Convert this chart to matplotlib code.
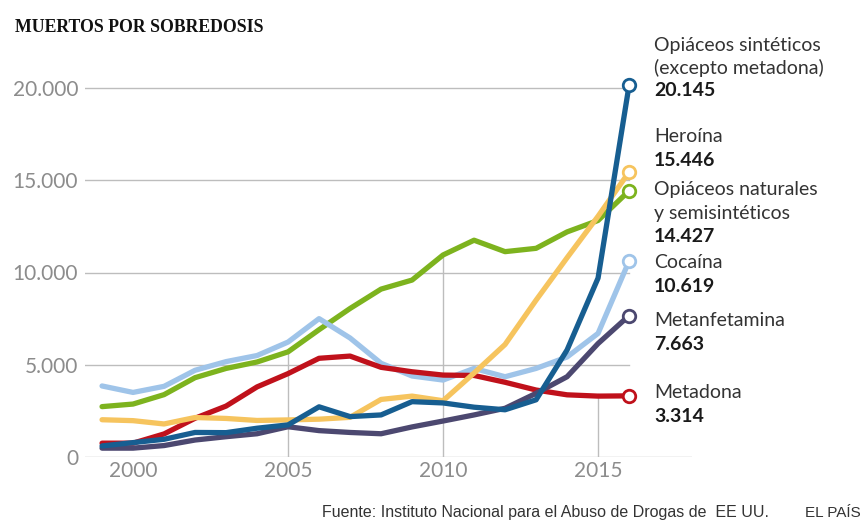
import numpy as np
import matplotlib
matplotlib.use("Agg")
import matplotlib.pyplot as plt

# ---------------- datos: muertes por sobredosis en EE UU ----------------
years = list(range(1999, 2017))

sinteticos = [600, 780, 960, 1330, 1320, 1560, 1740, 2720, 2190, 2280, 3000, 2930,
              2700, 2560, 3100, 5800, 9700, 20145]
heroina = [2020, 1970, 1790, 2140, 2090, 1980, 2010, 2050, 2150, 3120, 3300, 3050,
           4550, 6100, 8500, 10800, 13050, 15446]
naturales = [2730, 2870, 3380, 4300, 4800, 5150, 5700, 6900, 8050, 9100, 9590, 10950,
             11750, 11130, 11310, 12200, 12820, 14427]
cocaina = [3850, 3500, 3830, 4700, 5170, 5500, 6230, 7500, 6450, 5080, 4390, 4170,
           4800, 4350, 4800, 5420, 6700, 10619]
metanfetamina = [480, 480, 620, 920, 1100, 1260, 1640, 1430, 1330, 1260, 1630, 1950,
                 2280, 2640, 3450, 4350, 6150, 7663]
metadona = [750, 750, 1250, 2100, 2760, 3800, 4520, 5350, 5470, 4860, 4620, 4440,
            4420, 4050, 3630, 3370, 3300, 3314]

series = [
    ("sint", sinteticos, "#175e91"),
    ("her", heroina, "#f6c45e"),
    ("nat", naturales, "#7db31e"),
    ("coc", cocaina, "#9fc4e9"),
    ("met", metanfetamina, "#4c4870"),
    ("mtd", metadona, "#c0111b"),
]
draw_order = ["nat", "coc", "mtd", "met", "her", "sint"]

etiquetas = [
    (["Opiáceos sintéticos", "(excepto metadona)"], "20.145", 45),
    (["Heroína"], "15.446", 137),
    (["Opiáceos naturales", "y semisintéticos"], "14.427", 190),
    (["Cocaína"], "10.619", 263),
    (["Metanfetamina"], "7.663", 321),
    (["Metadona"], "3.314", 393),
]

y_ticks = [0, 5000, 10000, 15000, 20000]
y_tick_labels = ["0", "5.000", "10.000", "15.000", "20.000"]
x_ticks = [2000, 2005, 2010, 2015]

# ---------------- figura ----------------
W, H = 863, 525
fig = plt.figure(figsize=(W / 100, H / 100), dpi=100)
fig.patch.set_facecolor("white")

# pixel -> coordenadas de figura
def fx(px):
    return px / W

def fy(py):
    return 1 - py / H

ax = fig.add_axes([fx(85), fy(457), (692 - 85) / W, (457 - 60) / H])
x0, x1 = 1998.45, 2018.03
ax.set_xlim(x0, x1)
ax.set_ylim(0, (457 - 60) / 0.01845)
for s in ax.spines.values():
    s.set_visible(False)

grid_c = "#bdbdbd"
for v in y_ticks[1:]:
    ax.plot([x0, 2016.0], [v, v], color=grid_c, lw=1.0, zorder=1)
ax.plot([x0, x1], [0, 0], color=grid_c, lw=1.0, zorder=1)
for yr, top in [(2005, 5700), (2010, 11000), (2015, 3400)]:
    ax.plot([yr, yr], [0, top], color=grid_c, lw=1.0, zorder=1)

datos = {k: (v, c) for k, v, c in series}
for k in draw_order:
    vals, col = datos[k]
    ax.plot(years, vals, color=col, lw=3.8, solid_joinstyle="round",
            solid_capstyle="round", zorder=3)
    ax.plot(years[-1], vals[-1], "o", ms=9, mfc="white", mec=col, mew=2.0,
            zorder=4, clip_on=False)

ax.set_yticks(y_ticks)
ax.set_yticklabels(y_tick_labels)
ax.set_xticks(x_ticks)
ax.set_xticklabels([str(x) for x in x_ticks])
ax.tick_params(length=0, labelcolor="#8c8c8c", labelsize=15)
ax.tick_params(axis="y", pad=5)
ax.tick_params(axis="x", pad=3)
for lab in ax.get_xticklabels() + ax.get_yticklabels():
    lab.set_family(["Lato", "DejaVu Sans"])

# título
fig.text(fx(15), fy(28), "MUERTOS POR SOBREDOSIS", family=["Liberation Serif", "DejaVu Serif"],
         fontweight="bold", fontsize=12.8, color="#111111", va="center", ha="left")

# etiquetas a la derecha
for lineas, valor, ytop in etiquetas:
    y = ytop
    for ln in lineas:
        fig.text(fx(654), fy(y), ln, family=["Lato", "DejaVu Sans"], fontsize=14,
                 color="#333333", va="center", ha="left")
        y += 23
    fig.text(fx(654), fy(y), valor, family=["Lato", "DejaVu Sans"], fontsize=14,
             fontweight="bold", color="#1a1a1a", va="center", ha="left")

# fuente
fig.text(fx(322), fy(513), "Fuente: Instituto Nacional para el Abuso de Drogas de  EE UU.",
         family=["Liberation Sans", "DejaVu Sans"], fontsize=11.5,
         color="#333333", va="center", ha="left")
fig.text(fx(861), fy(513), "EL PAÍS", family=["Liberation Sans", "DejaVu Sans"],
         fontsize=11, color="#333333", va="center", ha="right")

fig.savefig("out.png", dpi=100, facecolor="white")
